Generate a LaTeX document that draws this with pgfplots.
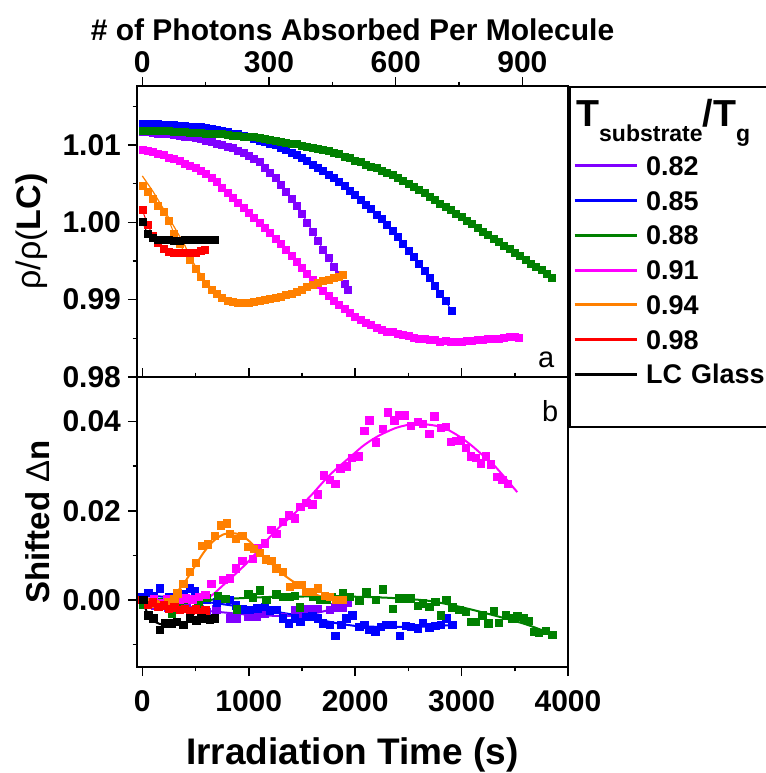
\documentclass[border=0pt]{standalone}
\usepackage{fontspec}
\setmainfont{Liberation Sans}
\usepackage{pgfplots}
\pgfplotsset{compat=1.18}
\definecolor{cviolet}{RGB}{128,0,255}
\definecolor{cblue}{RGB}{0,0,255}
\definecolor{cgreen}{RGB}{0,128,0}
\definecolor{cmag}{RGB}{255,0,255}
\definecolor{corange}{RGB}{255,128,0}
\definecolor{cred}{RGB}{255,0,0}
\tikzset{
  lent/.style={inner sep=0pt, text width=75pt, text height=13.475pt, text depth=3.875pt},
  ltitle/.style={inner sep=0pt, text width=75pt, text height=19.5pt, text depth=11.3pt},
  lfill/.style={inner sep=0pt, text width=75pt, text height=17.8pt, text depth=0pt},
}
\pgfplotsset{
  panel/.style={
    scale only axis, width=215.5pt,
    xmin=-50, xmax=4000,
    axis line style={line width=1pt},
    every tick/.style={black, line width=0.8pt},
    major tick length=4.5pt, minor tick length=2.2pt,
    tick align=outside,
    ytick pos=left,
    /pgf/number format/assume math mode=true,
    tick label style={font=\fontsize{15}{15}\selectfont\bfseries},
    yticklabel style={/pgf/number format/.cd, fixed, fixed zerofill, precision=2, /tikz/.cd},
    xticklabel style={/pgf/number format/1000 sep={}, yshift=-3.5pt},
    scaled y ticks=false, scaled x ticks=false,
  },
  mk/.style={color=#1, line width=0.5pt, mark=square*, mark size=1.75pt, mark options={solid, line width=0.3pt}},
  sc/.style={color=#1, only marks, mark=square*, mark size=1.85pt, mark options={line width=0.3pt}},
  fit/.style={color=#1, line width=1pt, mark=none},
}
\begin{document}
\begin{tikzpicture}
\path[use as bounding box] (0,0) rectangle (383pt,386.5pt);
% ---------------- top panel ----------------
\begin{axis}[panel, at={(68.5pt,198pt)}, anchor=south west, height=145.5pt,
  ymin=0.98, ymax=1.01763,
  ytick={0.98,0.99,1.00,1.01}, minor ytick={0.985,0.995,1.005,1.015},
  xtick=\empty,
  ylabel={{\mdseries ρ/ρ(}\textbf{LC)}},
  ylabel style={at={(axis description cs:-0.2436,0.5)}, anchor=center, font=\fontsize{17}{17}\selectfont},
]
\addplot[mk=cviolet] coordinates {(0,1.0117)(50,1.0117)(100,1.0116)(150,1.0115)(200,1.0115)(250,1.0114)(300,1.0113)(350,1.0112)(400,1.0111)(450,1.0110)(500,1.0109)(550,1.0108)(600,1.0106)(650,1.0104)(700,1.0102)(750,1.0100)(800,1.0098)(850,1.0096)(900,1.0093)(950,1.0090)(1000,1.0086)(1050,1.0082)(1100,1.0078)(1150,1.0071)(1200,1.0064)(1250,1.0057)(1300,1.0049)(1350,1.0040)(1400,1.0031)(1450,1.0021)(1500,1.0011)(1550,1.0000)(1600,0.9988)(1650,0.9976)(1700,0.9965)(1750,0.9954)(1800,0.9943)(1850,0.9932)(1900,0.9920)(1930,0.9913)};
\addplot[mk=cblue] coordinates {(0,1.0128)(50,1.0128)(100,1.0127)(150,1.0127)(200,1.0126)(250,1.0126)(300,1.0126)(350,1.0125)(400,1.0125)(450,1.0124)(500,1.0123)(550,1.0123)(600,1.0122)(650,1.0121)(700,1.0120)(750,1.0118)(800,1.0117)(850,1.0115)(900,1.0114)(950,1.0112)(1000,1.0110)(1050,1.0108)(1100,1.0106)(1150,1.0104)(1200,1.0102)(1250,1.0100)(1300,1.0097)(1350,1.0094)(1400,1.0090)(1450,1.0087)(1500,1.0083)(1550,1.0079)(1600,1.0075)(1650,1.0071)(1700,1.0066)(1750,1.0062)(1800,1.0057)(1850,1.0052)(1900,1.0047)(1950,1.0041)(2000,1.0035)(2050,1.0029)(2100,1.0023)(2150,1.0017)(2200,1.0010)(2250,1.0004)(2300,0.9997)(2350,0.9989)(2400,0.9981)(2450,0.9972)(2500,0.9963)(2550,0.9955)(2600,0.9946)(2650,0.9937)(2700,0.9928)(2750,0.9918)(2800,0.9908)(2850,0.9898)(2910,0.9885)};
\addplot[mk=cgreen] coordinates {(0,1.0119)(50,1.0119)(100,1.0118)(150,1.0118)(200,1.0118)(250,1.0118)(300,1.0117)(350,1.0117)(400,1.0117)(450,1.0116)(500,1.0116)(550,1.0116)(600,1.0115)(650,1.0115)(700,1.0114)(750,1.0114)(800,1.0113)(850,1.0112)(900,1.0112)(950,1.0111)(1000,1.0111)(1050,1.0110)(1100,1.0109)(1150,1.0108)(1200,1.0107)(1250,1.0106)(1300,1.0104)(1350,1.0103)(1400,1.0102)(1450,1.0101)(1500,1.0099)(1550,1.0098)(1600,1.0097)(1650,1.0095)(1700,1.0094)(1750,1.0092)(1800,1.0090)(1850,1.0088)(1900,1.0085)(1950,1.0083)(2000,1.0080)(2050,1.0078)(2100,1.0075)(2150,1.0072)(2200,1.0070)(2250,1.0067)(2300,1.0064)(2350,1.0061)(2400,1.0058)(2450,1.0054)(2500,1.0050)(2550,1.0046)(2600,1.0042)(2650,1.0038)(2700,1.0033)(2750,1.0029)(2800,1.0024)(2850,1.0020)(2900,1.0016)(2950,1.0011)(3000,1.0007)(3050,1.0002)(3100,0.9998)(3150,0.9993)(3200,0.9988)(3250,0.9984)(3300,0.9979)(3350,0.9975)(3400,0.9970)(3450,0.9966)(3500,0.9961)(3550,0.9957)(3600,0.9952)(3650,0.9947)(3700,0.9943)(3750,0.9938)(3800,0.9933)(3850,0.9928)};
\addplot[mk=cmag] coordinates {(0,1.0094)(50,1.0093)(100,1.0091)(150,1.0089)(200,1.0087)(250,1.0084)(300,1.0082)(350,1.0079)(400,1.0076)(450,1.0073)(500,1.0070)(550,1.0067)(600,1.0063)(650,1.0058)(700,1.0052)(750,1.0045)(800,1.0038)(850,1.0032)(900,1.0025)(950,1.0019)(1000,1.0012)(1050,1.0006)(1100,0.9999)(1150,0.9993)(1200,0.9986)(1250,0.9979)(1300,0.9972)(1350,0.9965)(1400,0.9957)(1450,0.9949)(1500,0.9941)(1550,0.9934)(1600,0.9926)(1650,0.9919)(1700,0.9912)(1750,0.9905)(1800,0.9899)(1850,0.9893)(1900,0.9888)(1950,0.9883)(2000,0.9878)(2050,0.9874)(2100,0.9870)(2150,0.9867)(2200,0.9864)(2250,0.9861)(2300,0.9859)(2350,0.9858)(2400,0.9856)(2450,0.9854)(2500,0.9853)(2550,0.9851)(2600,0.9850)(2650,0.9849)(2700,0.9848)(2750,0.9848)(2800,0.9846)(2850,0.9847)(2900,0.9845)(2950,0.9846)(3000,0.9846)(3050,0.9847)(3100,0.9847)(3150,0.9848)(3200,0.9848)(3250,0.9849)(3300,0.9849)(3350,0.9850)(3400,0.9851)(3450,0.9852)(3500,0.9852)(3540,0.9851)};
\addplot[fit=corange, line width=0.6pt] coordinates {(0,1.0060)(100,1.0040)(200,1.0017)(300,0.9994)(400,0.9970)(450,0.9955)(500,0.9943)(600,0.9922)(700,0.9908)(800,0.9900)(900,0.9897)(1000,0.9897)(1300,0.9904)(1600,0.9919)(1880,0.9932)};
\addplot[mk=corange] coordinates {(0,1.0047)(50,1.0040)(100,1.0031)(150,1.0022)(200,1.0013)(250,1.0002)(300,0.9985)(350,0.9972)(400,0.9961)(450,0.9951)(500,0.9940)(550,0.9929)(600,0.9920)(650,0.9913)(700,0.9907)(750,0.9902)(800,0.9899)(850,0.9897)(900,0.9896)(950,0.9896)(1000,0.9896)(1050,0.9897)(1100,0.9898)(1150,0.9900)(1200,0.9901)(1250,0.9903)(1300,0.9904)(1350,0.9906)(1400,0.9908)(1450,0.9910)(1500,0.9913)(1550,0.9916)(1600,0.9919)(1650,0.9922)(1700,0.9924)(1750,0.9926)(1800,0.9928)(1850,0.9930)(1880,0.9932)};
\addplot[mk=cred] coordinates {(0,1.0016)(50,0.9997)(100,0.9983)(150,0.9973)(200,0.9966)(250,0.9962)(300,0.9961)(350,0.9960)(400,0.9960)(450,0.9960)(500,0.9961)(550,0.9963)(590,0.9964)};
\addplot[mk=black] coordinates {(0,1.0001)(50,0.9985)(100,0.9980)(150,0.9978)(200,0.9977)(250,0.9977)(300,0.9976)(350,0.9976)(400,0.9977)(450,0.9977)(500,0.9977)(550,0.9977)(600,0.9978)(650,0.9978)(680,0.9978)};
\node[anchor=base west, inner sep=0pt, font=\fontsize{14.5}{14.5}\selectfont] at (axis description cs:0.930,0.034) {a};
\end{axis}
% ---------------- photon axis (top) ----------------
\begin{axis}[at={(68.5pt,198pt)}, anchor=south west, scale only axis,
  width=215.5pt, height=145.5pt,
  xmin=-12.6, xmax=1008, ymin=0, ymax=1,
  hide y axis,
  axis line style={line width=1pt},
  every tick/.style={black, line width=0.8pt},
  major tick length=4.5pt, minor tick length=2.2pt,
  tick align=outside,
  xtick pos=right, xticklabel pos=right,
  xtick={0,300,600,900}, minor xtick={150,450,750},
  /pgf/number format/assume math mode=true,
  tick label style={font=\fontsize{15}{15}\selectfont\bfseries},
  xticklabel style={yshift=-1.5pt},
  xlabel={\textbf{\# of Photons Absorbed Per Molecule}},
  xlabel style={at={(axis description cs:0.5,1.155)}, anchor=base, font=\fontsize{15}{15}\selectfont},
  legend style={at={(axis description cs:1,1)}, anchor=north west, xshift=0.6pt,
    draw=black, line width=1pt, fill=white, inner xsep=1.5pt, inner ysep=0pt,
    row sep=0pt, column sep=4pt,
    font=\fontsize{13.5}{13.5}\selectfont\bfseries},
  legend cell align=left,
  legend image code/.code={\draw[#1, line width=1.5pt] (0pt,0pt) -- (31pt,0pt);},
]
\addlegendimage{empty legend}
\addlegendentry[ltitle]{\hspace*{-35pt}{\fontsize{18.8}{18.8}\selectfont T}\raisebox{-7.5pt}{\fontsize{11.5}{11.5}\selectfont substrate}{\fontsize{18.8}{18.8}\selectfont /T}\raisebox{-7.5pt}{\fontsize{11.5}{11.5}\selectfont g}}
\addlegendimage{cviolet}\addlegendentry[lent]{0.82}
\addlegendimage{cblue}\addlegendentry[lent]{0.85}
\addlegendimage{cgreen}\addlegendentry[lent]{0.88}
\addlegendimage{cmag}\addlegendentry[lent]{0.91}
\addlegendimage{corange}\addlegendentry[lent]{0.94}
\addlegendimage{cred}\addlegendentry[lent]{0.98}
\addlegendimage{black}\addlegendentry[lent]{LC Glass}
\addlegendimage{empty legend}\addlegendentry[lfill]{}
\end{axis}
% ---------------- bottom panel ----------------
\begin{axis}[panel, at={(68.5pt,53pt)}, anchor=south west, height=145pt,
  ymin=-0.015, ymax=0.05,
  ytick={0,0.02,0.04}, minor ytick={-0.01,0.01,0.03},
  xtick={0,1000,2000,3000,4000}, minor xtick={500,1500,2500,3500},
  xtick pos=both, xticklabel pos=left,
  ylabel={\textbf{Shifted} {\mdseries Δ}\textbf{n}},
  ylabel style={at={(axis description cs:-0.231,0.5)}, anchor=center, font=\fontsize{16.5}{16.5}\selectfont},
  xlabel={\textbf{Irradiation Time (s)}},
  xlabel style={at={(axis description cs:0.5,-0.3345)}, anchor=base, font=\fontsize{18.5}{18.5}\selectfont},
]
\addplot[sc=cviolet] coordinates {(9,0.0000)(60,-0.0008)(120,-0.0012)(180,-0.0010)(240,-0.0016)(300,-0.0014)(360,-0.0020)(420,-0.0018)(480,-0.0022)(540,-0.0019)(600,-0.0026)(697,-0.0021)(822,-0.0041)(885,-0.0041)(994,-0.0037)(1072,-0.0036)(1150,-0.0030)(1260,-0.0022)(1322,-0.0037)(1431,-0.0022)(1484,-0.0034)(1541,-0.0021)(1597,-0.0021)(1650,-0.0019)(1759,-0.0022)(1815,-0.0016)(1884,-0.0016)(1930,-0.0006)};
\addplot[fit=cviolet] coordinates {(0,0.0000)(200,-0.0010)(400,-0.0018)(600,-0.0024)(822,-0.0029)(1000,-0.0033)(1200,-0.0035)(1350,-0.0036)(1500,-0.0033)(1650,-0.0028)(1800,-0.0020)(1930,-0.0007)};
\addplot[sc=cblue] coordinates {(0,0.0008)(56,0.0016)(110,0.0010)(166,0.0026)(250,0.0008)(300,0.0005)(384,0.0013)(447,0.0026)(494,0.0021)(550,0.0006)(603,0.0000)(700,-0.0005)(822,0.0000)(880,-0.0012)(946,-0.0021)(1009,-0.0022)(1080,-0.0018)(1150,-0.0015)(1200,-0.0023)(1260,-0.0022)(1322,-0.0041)(1378,-0.0052)(1431,-0.0041)(1484,-0.0049)(1541,-0.0037)(1597,-0.0036)(1650,-0.0041)(1696,-0.0052)(1759,-0.0056)(1815,-0.0080)(1868,-0.0056)(1915,-0.0041)(1972,-0.0034)(2040,-0.0060)(2087,-0.0056)(2134,-0.0067)(2190,-0.0071)(2243,-0.0060)(2290,-0.0056)(2352,-0.0056)(2421,-0.0080)(2477,-0.0058)(2524,-0.0060)(2586,-0.0063)(2633,-0.0051)(2696,-0.0061)(2752,-0.0058)(2805,-0.0056)(2858,-0.0041)(2914,-0.0056)};
\addplot[fit=cblue] coordinates {(0,0.0012)(300,0.0005)(600,-0.0004)(900,-0.0014)(1200,-0.0024)(1500,-0.0036)(1700,-0.0046)(1850,-0.0053)(2000,-0.0058)(2200,-0.0060)(2500,-0.0060)(2700,-0.0059)(2914,-0.0056)};
\addplot[sc=cgreen] coordinates {(9,-0.0011)(60,-0.0009)(119,-0.0007)(180,-0.0005)(275,-0.0030)(350,-0.0008)(420,0.0000)(525,-0.0007)(600,0.0005)(712,0.0009)(780,0.0003)(885,-0.0021)(994,0.0013)(1040,0.0006)(1103,0.0022)(1166,0.0000)(1260,0.0013)(1322,0.0007)(1384,0.0007)(1430,0.0010)(1478,-0.0016)(1541,0.0016)(1603,0.0007)(1665,0.0000)(1728,0.0000)(1780,0.0008)(1830,0.0003)(1884,0.0016)(1946,0.0007)(2040,-0.0001)(2103,0.0019)(2196,0.0000)(2259,0.0024)(2352,-0.0019)(2415,0.0004)(2477,0.0004)(2524,0.0004)(2586,-0.0013)(2633,-0.0007)(2696,-0.0015)(2752,-0.0004)(2805,-0.0034)(2858,0.0001)(2914,-0.0016)(2977,-0.0022)(3040,-0.0026)(3087,-0.0049)(3133,-0.0049)(3195,-0.0034)(3251,-0.0052)(3305,-0.0024)(3352,-0.0051)(3415,-0.0034)(3476,-0.0041)(3523,-0.0036)(3586,-0.0041)(3633,-0.0046)(3680,-0.0071)(3726,-0.0073)(3789,-0.0069)(3851,-0.0078)};
\addplot[fit=cgreen, smooth] coordinates {(0,-0.0010)(300,-0.0005)(600,0.0000)(900,0.0004)(1200,0.0007)(1500,0.0008)(1800,0.0008)(2100,0.0007)(2400,0.0004)(2700,-0.0002)(3000,-0.0016)(3300,-0.0034)(3600,-0.0054)(3850,-0.0076)};
\addplot[sc=cmag] coordinates {(0,0.0000)(56,-0.0004)(110,0.0002)(170,-0.0006)(230,0.0003)(290,-0.0002)(350,0.0000)(410,0.0004)(470,0.0002)(530,0.0008)(590,0.0012)(650,0.0037)(760,0.0046)(822,0.0049)(878,0.0071)(940,0.0088)(1040,0.0093)(1087,0.0116)(1150,0.0127)(1212,0.0157)(1259,0.0149)(1321,0.0175)(1377,0.0190)(1430,0.0183)(1483,0.0209)(1540,0.0218)(1596,0.0215)(1650,0.0237)(1706,0.0280)(1759,0.0270)(1812,0.0260)(1862,0.0295)(1921,0.0300)(1971,0.0319)(2034,0.0322)(2087,0.0380)(2133,0.0403)(2196,0.0354)(2258,0.0384)(2305,0.0421)(2368,0.0403)(2415,0.0414)(2462,0.0414)(2524,0.0391)(2587,0.0399)(2634,0.0395)(2696,0.0373)(2743,0.0412)(2805,0.0386)(2852,0.0389)(2899,0.0355)(2946,0.0357)(2993,0.0358)(3039,0.0341)(3085,0.0322)(3133,0.0319)(3180,0.0307)(3227,0.0322)(3274,0.0304)(3336,0.0276)(3383,0.0270)(3436,0.0260)};
\addplot[fit=cmag, smooth] coordinates {(0,0.0005)(150,0.0002)(300,-0.0001)(450,-0.0002)(550,0.0000)(603,0.0003)(666,0.0013)(744,0.0030)(822,0.0047)(900,0.0064)(978,0.0082)(1056,0.0102)(1134,0.0124)(1212,0.0145)(1290,0.0164)(1368,0.0181)(1446,0.0198)(1524,0.0219)(1603,0.0239)(1681,0.0260)(1759,0.0280)(1837,0.0297)(1915,0.0313)(1993,0.0329)(2071,0.0345)(2149,0.0358)(2227,0.0369)(2305,0.0378)(2384,0.0386)(2462,0.0391)(2540,0.0395)(2618,0.0395)(2696,0.0393)(2774,0.0390)(2852,0.0384)(2930,0.0374)(3008,0.0362)(3086,0.0348)(3164,0.0332)(3243,0.0315)(3321,0.0298)(3420,0.0271)(3523,0.0242)};
\addplot[sc=corange] coordinates {(0,0.0000)(60,-0.0004)(120,-0.0008)(180,-0.0010)(240,-0.0005)(300,0.0002)(330,0.0015)(384,0.0037)(447,0.0063)(503,0.0083)(560,0.0121)(615,0.0125)(681,0.0144)(737,0.0168)(793,0.0172)(822,0.0149)(878,0.0138)(940,0.0144)(996,0.0119)(1049,0.0115)(1103,0.0106)(1159,0.0091)(1212,0.0088)(1259,0.0071)(1321,0.0063)(1384,0.0030)(1446,0.0034)(1493,0.0034)(1540,0.0019)(1596,0.0019)(1650,0.0026)(1712,0.0010)(1759,0.0007)(1821,0.0000)(1884,0.0000)};
\addplot[fit=corange, smooth] coordinates {(0,-0.0005)(100,-0.0008)(200,-0.0004)(300,0.0012)(384,0.0035)(447,0.0058)(510,0.0082)(572,0.0105)(634,0.0124)(697,0.0138)(760,0.0147)(822,0.0150)(885,0.0149)(947,0.0143)(1010,0.0131)(1072,0.0116)(1134,0.0099)(1197,0.0085)(1260,0.0072)(1322,0.0058)(1384,0.0047)(1447,0.0037)(1509,0.0028)(1572,0.0019)(1634,0.0012)(1697,0.0007)(1759,0.0004)(1822,0.0001)(1884,0.0000)};
\addplot[sc=cred] coordinates {(0,0.0000)(50,-0.0010)(100,-0.0005)(150,-0.0015)(200,-0.0012)(250,-0.0020)(300,-0.0016)(350,-0.0022)(400,-0.0019)(450,-0.0024)(500,-0.0021)(550,-0.0026)(590,-0.0023)};
\addplot[fit=cred] coordinates {(0,0.0000)(150,-0.0010)(300,-0.0016)(450,-0.0021)(590,-0.0024)};
\addplot[sc=black] coordinates {(9,0.0000)(56,-0.0034)(103,-0.0041)(166,-0.0067)(213,-0.0052)(275,-0.0052)(322,-0.0049)(384,-0.0056)(447,-0.0041)(509,-0.0045)(556,-0.0041)(634,-0.0043)(681,-0.0041)};
\addplot[fit=black, smooth] coordinates {(0,0.0000)(40,-0.0025)(80,-0.0040)(130,-0.0050)(190,-0.0055)(260,-0.0055)(350,-0.0052)(450,-0.0048)(560,-0.0045)(681,-0.0041)};
\node[anchor=base west, inner sep=0pt, font=\fontsize{14.5}{14.5}\selectfont] at (axis description cs:0.939,0.846) {b};
\end{axis}
\end{tikzpicture}
\end{document}
